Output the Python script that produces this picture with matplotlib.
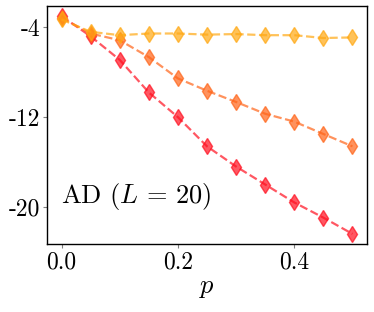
import numpy as np
import matplotlib
matplotlib.use('Agg')
import matplotlib.pyplot as plt

plt.rcParams['font.family'] = 'serif'
plt.rcParams['font.serif'] = ['cmr10']
plt.rcParams['mathtext.fontset'] = 'cm'
plt.rcParams['axes.unicode_minus'] = False

p = [0.0, 0.05, 0.1, 0.15, 0.2, 0.25, 0.3, 0.35, 0.4, 0.45, 0.5]
red_vals = [-3.0, -4.8, -6.9, -9.8, -12.0, -14.6, -16.4, -18.0, -19.6, -20.95, -22.4]
orange_vals = [-3.15, -4.55, -5.15, -6.65, -8.55, -9.65, -10.65, -11.7, -12.4, -13.5, -14.6]
yellow_vals = [-3.3, -4.4, -4.7, -4.55, -4.55, -4.65, -4.6, -4.7, -4.7, -4.95, -4.9]
colors = ['#ff1020', '#ff6418', '#ffa812']
yticks = [-4, -12, -20]
xticks = [0.0, 0.2, 0.4]

fig = plt.figure(figsize=(3.74, 3.12), dpi=100)
ax = fig.add_axes([47 / 374, 68 / 312, 320 / 374, 238 / 312])

for vals, c in zip([red_vals, orange_vals, yellow_vals], colors):
    ax.plot(p, vals, '--', marker='d', color=c, alpha=0.7, markersize=8, linewidth=1.6)

ax.set_xlim(-0.025, 0.525)
ax.set_ylim(-23.3, -2.1)
ax.set_xticks(xticks)
ax.set_xticklabels(['%.1f' % t for t in xticks], fontsize=17)
ax.set_yticks(yticks)
ax.set_yticklabels(['%d' % t for t in yticks], fontsize=17)
ax.tick_params(length=3, width=0.8, color='gray', pad=2)
ax.set_xlabel(r'$p$', fontsize=19, labelpad=2)
ax.text(0.045, 0.2, r'AD $(L\,=\,20)$', transform=ax.transAxes, fontsize=19, va='center')
for s in ax.spines.values():
    s.set_linewidth(1.0)

plt.savefig('out.png', dpi=100)
